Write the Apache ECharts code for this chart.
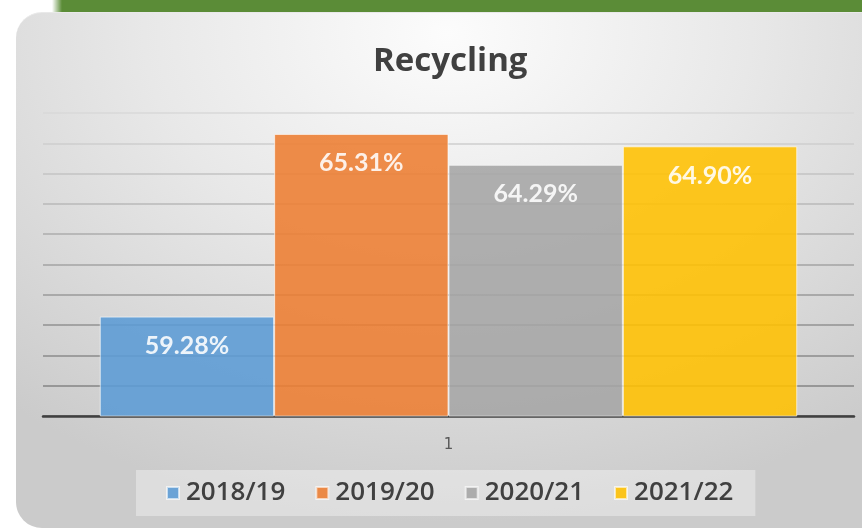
<!DOCTYPE html>
<html lang="en">
<head>
    <meta charset="utf-8">
    <title>Recycling</title>
    <style>
        * {
            margin: 0;
            padding: 0;
        }

        body {
            background: #fff;
            width: 862px;
            height: 528px;
            position: relative;
            overflow: hidden;
        }

        .green-strip {
            position: absolute;
            left: 52px;
            top: 0;
            width: 810px;
            height: 14px;
            background: linear-gradient(to right, #ffffff 0px, #5b8c37 10px);
        }

        .panel {
            position: absolute;
            left: 16px;
            top: 12px;
            width: 900px;
            height: 515px;
            border-radius: 26px;
            background: radial-gradient(ellipse 75% 95% at 48% 4%, #fcfcfc 0%, #e8e8e8 45%, #cbcbcb 100%);
            border-top: 1px solid #e9e9e9;
        }

        .chart-container {
            position: absolute;
            left: 0;
            top: 0;
            width: 862px;
            height: 528px;
        }
    </style>
</head>
<body>
<div class="green-strip"></div>
<div class="panel"></div>
<div id="chart" class="chart-container"></div>
<script src="https://cdn.jsdelivr.net/npm/echarts@6/dist/echarts.min.js"></script>
<script>
    // chart data
    const categories = ['1'];
    const seasons = ['2018/19', '2019/20', '2020/21', '2021/22'];
    const rates = [59.28, 65.31, 64.29, 64.90];
    const colors = ['#5b9bd5', '#ed7d31', '#a5a5a5', '#ffc000'];
    // gridline shades, bottom (56) to top (66)
    const gridShades = ['#7a7a7a', '#858585', '#8b8b8b', '#929292', '#9a9a9a', '#a3a3a3',
        '#adadad', '#b8b8b8', '#c3c3c3', '#cecece', '#d9d9d9'];

    const myChart = echarts.init(document.getElementById('chart'), null, {renderer: 'canvas'});

    const series = seasons.map(function (name, i) {
        return {
            name: name,
            type: 'bar',
            data: [rates[i]],
            barGap: 0,
            barCategoryGap: '14%',
            itemStyle: {
                color: colors[i],
                opacity: 0.88,
                borderColor: 'rgba(255,255,255,0.7)',
                borderWidth: 1
            },
            label: {
                show: true,
                position: 'insideTop',
                distance: 17,
                color: '#fff',
                fontFamily: 'Lato',
                fontWeight: 'bold',
                fontSize: 25,
                formatter: function (p) {
                    return p.value.toFixed(2) + '%';
                }
            }
        };
    });

    const option = {
        animation: false,
        title: {
            text: 'Recycling',
            left: 368,
            top: 40,
            textStyle: {
                fontFamily: 'Open Sans',
                fontWeight: 'bold',
                fontSize: 33,
                color: '#404040'
            }
        },
        grid: {
            left: 43,
            right: 8,
            top: 113,
            bottom: 112
        },
        legend: {
            data: seasons,
            left: 136,
            top: 470,
            padding: [10, 22, 10, 30],
            backgroundColor: 'rgba(255,255,255,0.35)',
            itemWidth: 12,
            itemHeight: 12,
            itemGap: 30,
            icon: 'rect',
            textStyle: {
                fontFamily: 'Open Sans',
                fontWeight: 600,
                fontSize: 26,
                color: '#404040',
                padding: [0, 0, 0, 2]
            }
        },
        xAxis: {
            type: 'category',
            data: categories,
            axisTick: {show: false},
            axisLine: {lineStyle: {color: '#404040', width: 2.5}},
            axisLabel: {
                margin: 22,
                fontSize: 15,
                color: '#595959',
                fontFamily: 'DejaVu Sans'
            }
        },
        yAxis: {
            type: 'value',
            min: 56,
            max: 66,
            interval: 1,
            axisLabel: {show: false},
            axisLine: {show: false},
            axisTick: {show: false},
            splitLine: {
                lineStyle: {color: gridShades, width: 1.5}
            }
        },
        series: series
    };

    myChart.setOption(option);
</script>
</body>
</html>
